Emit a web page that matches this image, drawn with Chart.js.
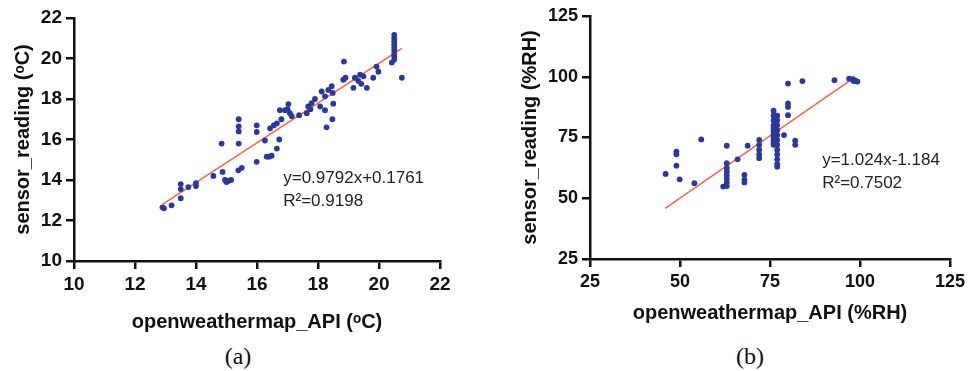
<!DOCTYPE html>
<html>
<head>
<meta charset="utf-8">
<script src="https://cdn.jsdelivr.net/npm/chart.js@4"></script>
<style>
  html, body { margin: 0; padding: 0; background: #fff; }
  body { width: 969px; height: 371px; position: relative; overflow: hidden; }
  canvas { position: absolute; top: 0; }
  #chartA { left: 0; }
  #chartB { left: 490px; }
  .cap { position: absolute; top: 343px; font-family: 'Liberation Serif', 'DejaVu Serif', serif; font-size: 24px; color: #111; transform: translateX(-50%); }
</style>
</head>
<body>
<canvas id="chartA" width="480" height="340"></canvas>
<canvas id="chartB" width="479" height="340"></canvas>
<div class="cap" style="left:238px">(a)</div>
<div class="cap" style="left:750px">(b)</div>
<script>
// ---- (a) temperature ----
const tempX = [12.9, 12.95, 13.2, 13.5, 13.5, 13.5, 13.75, 14.0, 14.0, 14.57,
  14.84, 14.87, 14.95, 15.0, 15.05, 15.15, 15.39, 15.5, 15.4, 15.4,
  15.4, 15.4, 15.99, 15.99, 15.99, 16.26, 16.32, 16.48, 16.4, 16.43,
  16.55, 16.65, 16.65, 16.73, 16.8, 16.75, 16.92, 17.03, 17.08, 17.14,
  17.0, 17.38, 17.63, 17.68, 17.79, 17.9, 18.07, 17.75, 18.12, 18.23,
  18.34, 18.23, 18.28, 18.45, 18.48, 18.5, 18.47, 18.85, 18.83, 18.9,
  19.16, 19.21, 19.32, 19.38, 19.49, 19.42, 19.6, 19.81, 19.92, 19.98,
  20.42, 20.5, 20.5, 20.5, 20.5, 20.5, 20.5, 20.5, 20.5, 20.5, 20.75];
const tempY = [12.65, 12.6, 12.75, 13.8, 13.55, 13.1, 13.65, 13.85, 13.7, 14.2,
  15.8, 14.4, 14.0, 13.9, 13.95, 14.0, 14.48, 14.6, 17.0, 16.65,
  16.4, 15.8, 16.7, 16.37, 14.9, 15.95, 15.15, 15.2, 15.15, 16.55,
  16.7, 16.8, 15.55, 16.0, 17.0, 17.45, 17.45, 17.75, 17.3, 17.15,
  17.5, 17.2, 17.3, 17.63, 17.8, 18.0, 17.63, 17.5, 18.37, 18.13,
  18.45, 17.45, 16.6, 18.63, 18.3, 17.77, 17.0, 19.85, 18.95, 19.05,
  18.55, 19.05, 18.9, 19.2, 19.12, 18.75, 18.55, 19.05, 19.6, 19.35,
  19.8, 21.17, 21.0, 20.85, 20.7, 20.55, 20.4, 20.25, 20.1, 19.95, 19.05];
const tempFitX = [12.9, 20.75];
const tempFitY = [12.8, 20.5];
const tempTicks = [10, 12, 14, 16, 18, 20, 22];
const tempEq = ['y=0.9792x+0.1761', 'R²=0.9198'];

// ---- (b) humidity ----
const humX = [46, 49, 49, 49, 49.9, 54, 55.9, 63, 62, 63,
  63, 63, 63, 63, 63, 63, 66, 67.9, 67.9, 67.9,
  68.8, 72, 72, 72, 72, 72, 76, 76, 76, 76,
  76, 76, 76, 76, 76, 76, 76, 76, 77, 77,
  77, 77, 77, 77, 77, 77, 77, 77, 77, 77,
  78.9, 80, 80, 80, 80, 82, 82, 84, 92.9, 97,
  98, 98.5, 99, 99.3, 98.2];
const humY = [60, 69.2, 68.1, 63.4, 57.8, 56.2, 74.2, 71.6, 54.8, 64.4,
  62.5, 61, 59.5, 58, 56.5, 55, 66, 57.6, 59.6, 56.5,
  71.6, 74, 72, 70, 68, 66.5, 86, 84, 82, 80,
  79, 78, 77, 76, 75, 74, 73, 72, 84, 82,
  80, 78, 76, 74, 72, 70, 68, 66, 64, 63,
  76, 97.2, 89, 87.6, 84.2, 73.7, 72, 98.2, 98.6, 99.2,
  99, 98.5, 98.2, 98, 98.3];
const humFitX = [45.9, 97.1];
const humFitY = [45.8, 98.3];
const humTicks = [25, 50, 75, 100, 125];
const humEq = ['y=1.024x-1.184', 'R²=0.7502'];

const SANS = "'Liberation Sans', Arial, sans-serif";
const DOT = '#2a389e';
const FIT = '#f2664a';

const pairs = (xs, ys) => xs.map((x, i) => ({ x, y: ys[i] }));

// draws the fit equation as two lines of text, anchored at a data position
const eqLabel = {
  id: 'eqLabel',
  afterDatasetsDraw(chart, args, opts) {
    const { ctx, scales: { x, y } } = chart;
    ctx.save();
    ctx.font = `17px ${SANS}`;
    ctx.fillStyle = '#222';
    ctx.textBaseline = 'middle';
    const px = x.getPixelForValue(opts.x);
    const py = y.getPixelForValue(opts.y);
    opts.lines.forEach((t, i) => ctx.fillText(t, px, py + i * 23));
    ctx.restore();
  }
};

function makeChart(id, cfg) {
  const axis = (ticks, tickFont, title, titlePad, size, isX) => ({
    type: 'linear',
    min: ticks[0],
    max: ticks[ticks.length - 1],
    afterBuildTicks: s => { s.ticks = ticks.map(v => ({ value: v })); },
    afterFit: s => { if (isX) s.height = size; else s.width = size; },
    border: { color: '#111', width: 2.5 },
    grid: { drawOnChartArea: false, drawTicks: true, tickLength: 8, color: '#111', lineWidth: 2.5 },
    ticks: { color: '#111', padding: isX ? 4 : 4, font: { family: SANS, size: tickFont, weight: 'bold' } },
    title: { display: true, text: title, color: '#111', padding: titlePad,
      font: { family: SANS, size: 20, weight: 'bold' } }
  });

  return new Chart(document.getElementById(id), {
    type: 'scatter',
    data: {
      datasets: [
        { data: pairs(cfg.xs, cfg.ys), backgroundColor: DOT, borderColor: DOT, pointRadius: 2.9, pointBorderWidth: 0 },
        { type: 'line', data: pairs(cfg.fitX, cfg.fitY), borderColor: FIT, borderWidth: 1.6, pointRadius: 0, fill: false }
      ]
    },
    options: {
      responsive: false,
      animation: false,
      devicePixelRatio: 1,
      layout: { padding: cfg.pad },
      plugins: {
        legend: { display: false },
        tooltip: { enabled: false },
        eqLabel: cfg.eq
      },
      scales: {
        x: axis(cfg.ticks, cfg.tickFont, cfg.xTitle, { top: 0, bottom: cfg.xTitlePad }, cfg.xH, true),
        y: axis(cfg.ticks, cfg.tickFont, cfg.yTitle, { top: cfg.yTitlePad, bottom: 0 }, cfg.yW, false)
      }
    },
    plugins: [eqLabel]
  });
}

makeChart('chartA', {
  xs: tempX, ys: tempY, fitX: tempFitX, fitY: tempFitY, ticks: tempTicks, tickFont: 19,
  xTitle: 'openweathermap_API (ᵒC)', yTitle: 'sensor_reading (ᵒC)',
  xTitlePad: 6, yTitlePad: 11, xH: 79, yW: 74,
  pad: { left: 0, right: 40, top: 18, bottom: 0 },
  eq: { x: 16.86, y: 14.07, lines: tempEq }
});

makeChart('chartB', {
  xs: humX, ys: humY, fitX: humFitX, fitY: humFitY, ticks: humTicks, tickFont: 18,
  xTitlePad: 15, yTitlePad: 28, xH: 81, yW: 100,
  xTitle: 'openweathermap_API (%RH)', yTitle: 'sensor_reading (%RH)',
  pad: { left: 0, right: 17, top: 16, bottom: 0 },
  eq: { x: 89.5, y: 65.8, lines: humEq }
});
</script>
</body>
</html>
